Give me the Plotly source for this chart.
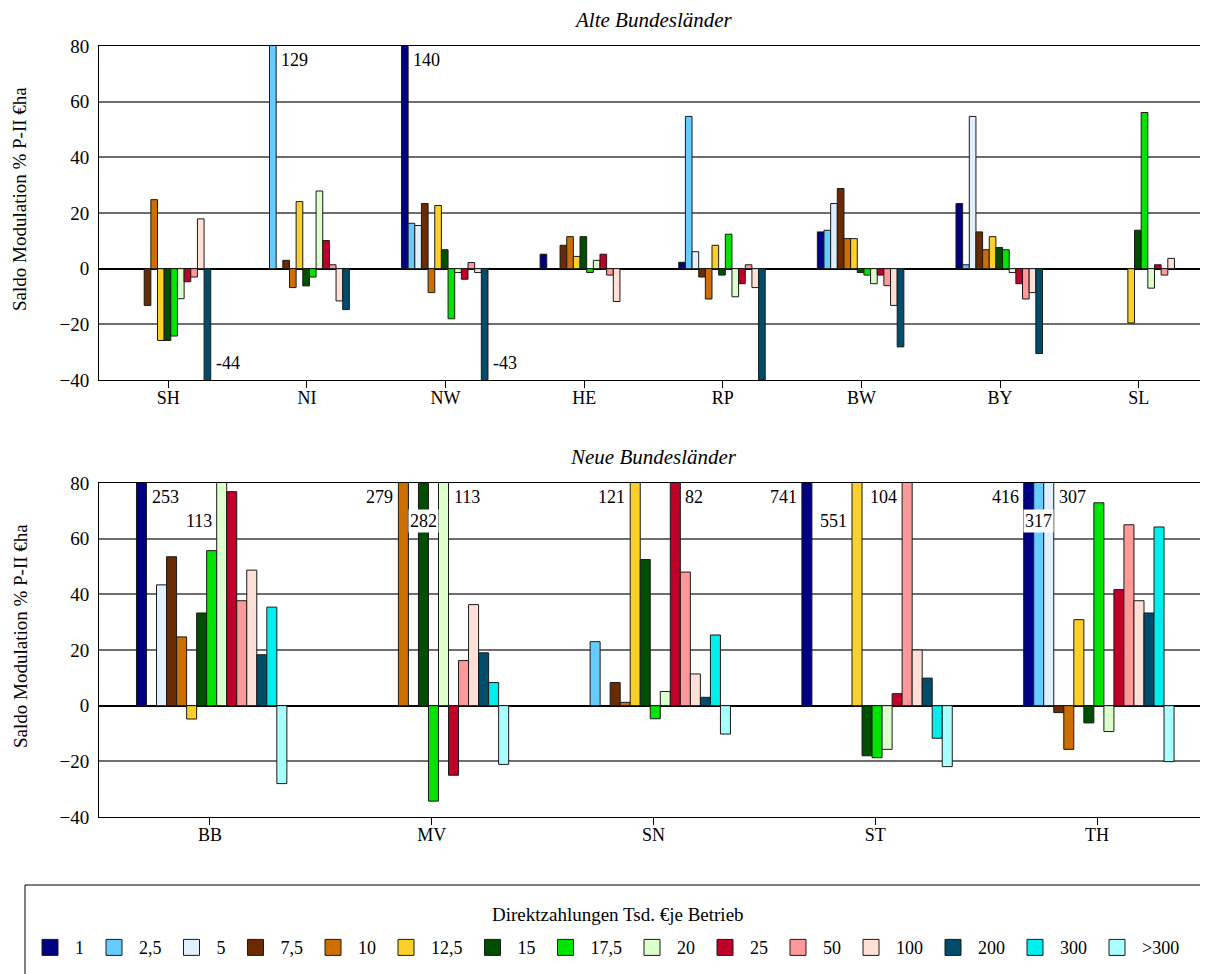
import plotly.graph_objects as go

# Kategorien
alte = ["SH", "NI", "NW", "HE", "RP", "BW", "BY", "SL"]
neue = ["BB", "MV", "SN", "ST", "TH"]

# Größenklassen Direktzahlungen (Tsd. € je Betrieb)
klassen = ["1", "2,5", "5", "7,5", "10", "12,5", "15", "17,5", "20", "25", "50", "100", "200", "300", ">300"]
farben = ["#000080", "#66CCFF", "#E0F0FF", "#6B2A00", "#CC6E00", "#FCD02A", "#004F00", "#00E400",
          "#DDFFCC", "#C00028", "#FF9999", "#FFE0D6", "#004D6B", "#00EEEE", "#AAFFFF"]

# Werte je Größenklasse, Reihenfolge wie 'alte' (None = kein Wert)
werte_alte = {
    "1":    [None, None, 140, 5.2, 2.3, 13.2, 23.4, None],
    "2,5":  [None, 129, 16.3, None, 54.7, 13.8, 1.4, None],
    "5":    [None, None, 15.5, None, 6.1, 23.4, 54.7, None],
    "7,5":  [-13.2, 3.0, 23.4, 8.4, -3.0, 28.8, 13.2, None],
    "10":   [24.8, -6.8, -8.6, 11.5, -10.9, 10.8, 6.8, None],
    "12,5": [-25.8, 24.1, 22.7, 4.4, 8.4, 10.8, 11.5, -19.5],
    "15":   [-25.8, -6.2, 6.8, 11.5, -2.3, -1.4, 7.6, 13.8],
    "17,5": [-24.2, -3.0, -18.0, -1.4, 12.4, -2.3, 6.8, 56.1],
    "20":   [-10.8, 27.9, -1.4, 3.0, -10.1, -5.4, -1.4, -7.0],
    "25":   [-4.7, 10.1, -3.8, 5.2, -5.4, -2.3, -5.4, 1.4],
    "50":   [-3.0, 1.4, 2.2, -2.3, 1.4, -6.1, -10.9, -2.3],
    "100":  [17.9, -11.6, -1.4, -11.8, -6.8, -13.2, -8.6, 3.7],
    "200":  [-44, -14.7, -43, None, -40, -28.1, -30.5, None],
    "300":  [None] * 8,
    ">300": [None] * 8,
}

# Reihenfolge wie 'neue'
werte_neue = {
    "1":    [253, None, None, 741, 416],
    "2,5":  [None, None, 23.0, None, 317],
    "5":    [43.4, None, None, None, 307],
    "7,5":  [53.5, None, 8.3, None, -2.5],
    "10":   [24.7, 279, 1.2, None, -15.7],
    "12,5": [-4.8, None, 121, 551, 30.9],
    "15":   [33.3, 282, 52.5, -18.0, -6.2],
    "17,5": [55.7, -34.3, -4.7, -18.7, 72.9],
    "20":   [113, 113, 5.1, -15.7, -9.3],
    "25":   [76.9, -25.0, 82, 4.3, 41.7],
    "50":   [37.7, 16.2, 48.0, 104, 65.0],
    "100":  [48.7, 36.3, 11.4, 20.0, 37.7],
    "200":  [18.3, 19.0, 3.0, 9.9, 33.3],
    "300":  [35.4, 8.3, 25.4, -11.7, 64.2],
    ">300": [-28.0, -21.1, -10.2, -21.9, -20.1],
}

# Beschriftungen abgeschnittener Balken: (Land, Klasse, Seite, Zeile)
labels_alte = [("SH", "200", "r", "u"), ("NI", "2,5", "r", "o"),
               ("NW", "1", "r", "o"), ("NW", "200", "r", "u")]
labels_neue = [("BB", "1", "r", "o"), ("BB", "20", "l", "m"), ("MV", "10", "l", "o"),
               ("MV", "15", "c", "m"), ("MV", "20", "r", "o"), ("SN", "12,5", "l", "o"),
               ("SN", "25", "r", "o"), ("ST", "1", "l", "o"), ("ST", "12,5", "l", "m"),
               ("ST", "50", "l", "o"), ("TH", "1", "l", "o"), ("TH", "2,5", "c", "m"),
               ("TH", "5", "r", "o")]

SERIF = "Liberation Serif, Times New Roman, serif"
W, H = 1200, 966          # Seite hat 8px Body-Rand
L, R, T, B = 91, 0, 38, 157
# Balkenbreite und Gruppenversatz in Kategorie-Einheiten (oben / unten)
BAR_W = {"alte": 0.048, "neue": 0.0452}
SHIFT = {"alte": 0.042, "neue": 0.008}

plot_w = W - L - R
ph = H - T - B
unten_px = H - B
zeilen = {"o": 75, "m": 66.5, "u": -34}
mitte = (len(klassen)) / 2


def py(pix):
    # Pixelzeile -> Papierkoordinate
    return (unten_px - pix) / ph


def px(pix):
    return (pix - L) / plot_w


fig = go.Figure()

for i, (k, c) in enumerate(zip(klassen, farben)):
    for kats, werte, teil, xa, ya in ((alte, werte_alte, "alte", "x", "y"),
                                      (neue, werte_neue, "neue", "x2", "y2")):
        bw = BAR_W[teil]
        fig.add_trace(go.Bar(x=kats, y=werte[k], name=k, marker_color=c,
                             marker_line_color="#1a1a1a", marker_line_width=1,
                             width=bw, offset=(i - mitte) * bw + SHIFT[teil],
                             showlegend=False, xaxis=xa, yaxis=ya))
    # Legendeneintrag als Quadrat
    fig.add_trace(go.Scatter(x=[None], y=[None], name=k, mode="markers",
                             marker=dict(symbol="square", size=16, color=c,
                                         line=dict(color="#1a1a1a", width=1)),
                             xaxis="x", yaxis="y"))


def beschriftung(labels, kats, werte, teil, xref, yref):
    kat_px = plot_w / len(kats)
    bw = BAR_W[teil] * kat_px
    for land, k, seite, zeile in labels:
        i = klassen.index(k)
        mitte_px = ((i - mitte) * BAR_W[teil] + SHIFT[teil]) * kat_px + bw / 2
        wert = werte[k][kats.index(land)]
        ann = dict(x=land, y=zeilen[zeile], xref=xref, yref=yref, text=f"{wert:.0f}",
                   showarrow=False, font=dict(family=SERIF, size=18, color="black"))
        if seite == "r":
            ann.update(xanchor="left", xshift=mitte_px + bw / 2 + 3)
        elif seite == "l":
            ann.update(xanchor="right", xshift=mitte_px - bw / 2 - 3)
        else:
            ann.update(xanchor="center", xshift=mitte_px, bgcolor="white")
        fig.add_annotation(**ann)


beschriftung(labels_alte, alte, werte_alte, "alte", "x", "y")
beschriftung(labels_neue, neue, werte_neue, "neue", "x2", "y2")

oben = [py(372), 1]
unten = [0, py(475)]

achse_x = dict(type="category", showline=True, linecolor="black", linewidth=1,
               ticks="outside", ticklen=7, tickcolor="black", showgrid=False,
               ticklabelstandoff=-6,
               tickfont=dict(family=SERIF, size=18, color="black"), mirror=True)
achse_y = dict(range=[-40, 80], dtick=20, showgrid=True, gridcolor="#6e6e6e", gridwidth=1.5,
               zeroline=True, zerolinecolor="black", zerolinewidth=1.5,
               showline=True, linecolor="black", linewidth=1, ticks="",
               ticklabelstandoff=5,
               tickfont=dict(family=SERIF, size=19, color="black"))

fig.update_layout(
    width=W, height=H,
    margin=dict(l=L, r=R, t=T, b=B),
    paper_bgcolor="white", plot_bgcolor="white",
    barmode="group", bargap=0.3, bargroupgap=0,
    font=dict(family=SERIF, size=18, color="black"),
    xaxis=dict(achse_x, domain=[0, 1], anchor="y", categoryarray=alte, categoryorder="array"),
    yaxis=dict(achse_y, domain=oben, anchor="x"),
    xaxis2=dict(achse_x, domain=[0, 1], anchor="y2", categoryarray=neue, categoryorder="array"),
    yaxis2=dict(achse_y, domain=unten, anchor="x2"),
    legend=dict(orientation="h", x=px(17), y=py(877),
                xanchor="left", yanchor="top", borderwidth=0,
                bgcolor="rgba(0,0,0,0)", itemwidth=40, traceorder="normal",
                font=dict(family=SERIF, size=18, color="black"),
                title=dict(text="&nbsp;<br>&nbsp;", side="top",
                           font=dict(family=SERIF, size=17, color="black"))),
    showlegend=True,
)

# Rahmen der Legende, läuft rechts und unten über den Bildrand hinaus
fig.add_shape(type="rect", xref="paper", yref="paper", x0=px(17), x1=px(1240),
              y0=py(877), y1=py(1010), line=dict(color="black", width=1),
              fillcolor="rgba(0,0,0,0)", layer="above")

# Überschriften, Achsentitel, Legendentitel
fig.add_annotation(text="<i>Alte Bundesländer</i>", x=0.5, y=py(12), xref="paper", yref="paper",
                   yanchor="middle", showarrow=False, font=dict(family=SERIF, size=21))
fig.add_annotation(text="<i>Neue Bundesländer</i>", x=0.5, y=py(449), xref="paper", yref="paper",
                   yanchor="middle", showarrow=False, font=dict(family=SERIF, size=21))
for ymid in (191, 628):
    fig.add_annotation(text="Saldo Modulation % P-II €ha", x=px(12), y=py(ymid), xref="paper",
                       yref="paper", textangle=-90, xanchor="center", yanchor="middle",
                       showarrow=False, font=dict(family=SERIF, size=19))
fig.add_annotation(text="Direktzahlungen Tsd. €je Betrieb", x=px(610), y=py(906), xref="paper",
                   yref="paper", xanchor="center", yanchor="middle", showarrow=False,
                   font=dict(family=SERIF, size=19))

fig.write_html("out.html")
